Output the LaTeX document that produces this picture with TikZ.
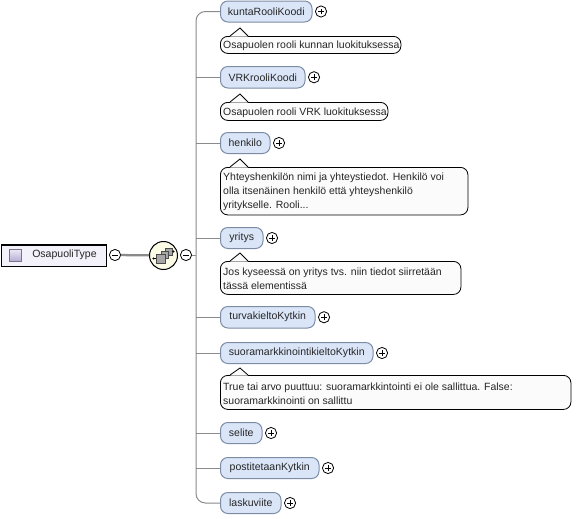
\documentclass[tikz,border=0pt]{standalone}
\usepackage{fontspec}
\setmainfont{Liberation Sans}
\tikzset{
  x=0.75pt,y=-0.75pt,
  elem/.style={draw=elemline,fill=elemfill,rounded corners=5.5pt,line width=0.75pt,anchor=north west,inner sep=0pt,minimum height=16pt,font=\fontsize{7.9}{9}\selectfont,text=black!85},
  doc/.style={draw=black,fill=docfill,rounded corners=5.5pt,line width=0.6pt,anchor=north west,inner sep=0pt},
  doctext/.style={anchor=west,inner sep=0pt,font=\fontsize{7.85}{10.5}\selectfont,align=left,text=black!85},
  tip/.style={draw=black,line width=0.6pt},
  wire/.style={draw=wirecol,line width=0.75pt},
  exp/.style={circle,draw=black,fill=white,line width=0.6pt,minimum size=8.4pt,inner sep=0pt},
  sym/.style={draw=black,line width=0.6pt},
  seqbox/.style={draw=black!70,fill=black!35,inner sep=0pt},
}
\definecolor{elemline}{HTML}{7D8CA5}
\definecolor{elemfill}{HTML}{DAE6F8}
\definecolor{docfill}{HTML}{FBFBFB}
\definecolor{wirecol}{HTML}{8A8A8A}
\definecolor{typefill}{HTML}{F3F1FA}
\definecolor{seqfill}{HTML}{FBFBE6}
\definecolor{swatch}{HTML}{C8BEE6}
\newcommand{\elemnode}[6]{%
  \node[elem,minimum width=#4*0.75pt,minimum height=#5*0.75pt] (#1) at (#2,#3) {#6};
  \node[exp] (#1x) at ([xshift=6.4pt]#1.east) {};
  \draw[sym] ([xshift=-2.2pt]#1x.center) -- ([xshift=2.2pt]#1x.center) ([yshift=-2.2pt]#1x.center) -- ([yshift=2.2pt]#1x.center);
}
\newcommand{\docnode}[6]{%
  \node[doc,minimum width=#4*0.75pt,minimum height=#5*0.75pt] (#1) at (220,#3) {};
  \node[doctext] (#1t) at ([xshift=2.2pt,yshift=-0.75pt]#1.west) {#6};
  \coordinate (#1a) at (240,#2);
  \fill[docfill] (230,#3+0.7) -- (#1a) -- (248,#3+0.7) -- cycle;
  \draw[tip] (230,#3) -- (#1a) -- (248,#3);
}
\begin{document}
\begin{tikzpicture}
\useasboundingbox (0,0) rectangle (578,518);
\fill[white] (0,0) rectangle (578,518);
% root
\node[draw=black,fill=typefill,line width=1pt,anchor=north west,minimum width=79pt,minimum height=16.2pt,inner sep=0pt] (root) at (0.7,244.2) {};
\node[anchor=west,inner sep=0pt,font=\fontsize{7.9}{9}\selectfont,text=black!85] (roott) at (32,255) {OsapuoliType};
\node[draw=swatch!60!black,top color=swatch!35,bottom color=swatch!90!black,minimum size=9.2pt,inner sep=0pt] (sw) at (15.5,255.5) {};
\node[exp] (rootx) at (115,255) {};
\draw[sym] ([xshift=-2.2pt]rootx.center) -- ([xshift=2.2pt]rootx.center);
\node[circle,draw=black,fill=seqfill,line width=0.75pt,minimum size=21pt,inner sep=0pt] (seq) at (163.5,255.5) {};
\node[exp] (seqx) at (186,255) {};
\draw[sym] ([xshift=-2.2pt]seqx.center) -- ([xshift=2.2pt]seqx.center);
\draw[draw=wirecol,line width=1.7pt] (rootx) -- (seq);
% sequence icon
\node[seqbox,minimum size=5.6pt] (q3) at (169,251.5) {};
\node[seqbox,minimum size=5.6pt] (q2) at (165,255) {};
\node[seqbox,minimum size=6.4pt] (q1) at (161,258.5) {};
\coordinate (qa) at (153.5,258.5);
\coordinate (qb) at (173.5,251.5);
\draw[black,line width=0.6pt] (qa) -- (q1.west) (q3.east) -- (qb);
\fill[black] (qa) circle (1.2) (qb) circle (1.2);
% elements
\elemnode{e1}{220}{0.5}{91.5}{21}{kuntaRooliKoodi}
\elemnode{e2}{220}{66}{84.5}{21.5}{VRKrooliKoodi}
\elemnode{e3}{220}{132}{49.5}{21}{henkilo}
\elemnode{e4}{220}{227}{42.5}{21}{yritys}
\elemnode{e5}{220}{306}{94.5}{21.5}{turvakieltoKytkin}
\elemnode{e6}{220}{342}{152.5}{21}{suoramarkkinointikieltoKytkin}
\elemnode{e7}{220}{422}{41.5}{21}{selite}
\elemnode{e8}{220}{457}{98.5}{21}{postitetaanKytkin}
\elemnode{e9}{220}{492}{60.5}{21}{laskuviite}
% documentation
\docnode{d1}{28}{36}{180.5}{17}{Osapuolen rooli kunnan luokituksessa}
\docnode{d2}{94}{102}{167.5}{18}{Osapuolen rooli VRK luokituksessa}
\docnode{d3}{159}{167}{247.5}{47.5}{Yhteyshenkilön nimi ja yhteystiedot. Henkilö voi\\olla itsenäinen henkilö että yhteyshenkilö\\yritykselle. Rooli...}
\docnode{d4}{253}{261}{240.5}{33}{Jos kyseessä on yritys tvs. niin tiedot siirretään\\tässä elementissä}
\docnode{d6}{368}{375}{350.5}{34}{True tai arvo puuttuu: suoramarkkintointi ei ole sallittua. False:\\suoramarkkinointi on sallittu}
% connectors
\coordinate (sp) at (196,255);
\draw[wire] (seqx) -- (sp);
\draw[wire,rounded corners=7pt] (e1.west) -| (sp) |- (e9.west);
\foreach \n in {e2,e3,e4,e5,e6,e7,e8}
  \draw[wire] (\n.west) -- (sp |- \n.west);
\end{tikzpicture}
\end{document}
